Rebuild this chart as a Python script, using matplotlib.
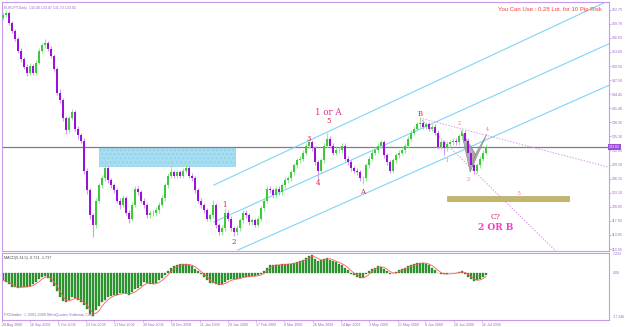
import matplotlib
matplotlib.use("Agg")
import matplotlib.pyplot as plt
import numpy as np
import pandas as pd
from matplotlib.patches import Rectangle, Polygon

# ---------------- data (EURJPY daily) ----------------
first_open = 161.0
closes = [161.7, 162.1, 159.9, 158.2, 156.5, 153.9, 152.1, 150.4, 149.1, 150.6,
          149.1, 151.3, 153.9, 155.0, 155.6, 154.3, 152.8, 150.0, 144.8, 143.1,
          139.2, 136.6, 139.2, 140.5, 137.0, 135.5, 134.4, 127.9, 123.6, 118.2,
          116.0, 121.4, 124.7, 126.2, 128.4, 125.8, 124.7, 123.6, 121.4, 120.4,
          121.9, 118.8, 117.5, 120.4, 124.0, 123.2, 121.4, 120.4, 118.2, 118.8,
          118.6, 119.3, 120.4, 121.9, 124.7, 126.8, 127.5, 126.8, 127.5, 126.8,
          127.9, 128.4, 126.8, 126.2, 123.6, 121.4, 120.4, 119.3, 117.5, 118.2,
          120.4, 116.0, 114.5, 115.4, 118.8, 117.5, 115.4, 114.5, 115.4, 117.1,
          118.8, 118.2, 116.7, 117.1, 116.2, 117.5, 119.7, 121.4, 124.0, 123.6,
          122.5, 124.0, 123.2, 124.7, 125.8, 126.2, 127.5, 129.0, 130.1, 130.5,
          131.8, 133.3, 134.0, 132.7, 129.7, 127.9, 130.1, 133.3, 134.8, 133.3,
          131.8, 132.3, 132.3, 133.3, 130.5, 129.7, 128.4, 127.9, 127.5, 126.2,
          126.2, 129.0, 130.5, 131.8, 132.3, 133.3, 134.0, 131.2, 129.7, 127.9,
          130.1, 131.2, 131.8, 132.3, 133.3, 134.8, 136.1, 137.0, 137.9, 138.3,
          137.4, 137.9, 137.0, 137.4, 136.1, 133.1, 134.0, 132.7, 133.6, 134.0,
          134.4, 134.0, 135.3, 136.1, 134.4, 131.8, 129.0, 127.9, 129.0, 130.5,
          131.8, 133.1]
highs = [162.3, 162.7, 162.4, 160.3, 158.6, 156.9, 154.4, 152.6, 150.9, 151.2,
         151.0, 151.8, 154.4, 155.6, 156.3, 156.0, 154.8, 153.2, 150.4, 145.5,
         143.6, 139.7, 139.8, 141.2, 141.0, 137.5, 136.0, 134.9, 128.4, 124.1,
         118.7, 122.0, 125.3, 126.9, 130.5, 128.9, 126.3, 125.2, 124.1, 121.9,
         122.5, 122.3, 119.3, 121.0, 124.6, 124.6, 123.7, 121.9, 120.9, 119.4,
         119.3, 119.9, 121.0, 122.5, 125.3, 127.4, 130.5, 128.0, 128.1, 128.0,
         128.5, 129.5, 128.9, 127.3, 126.7, 124.1, 121.9, 120.9, 119.8, 118.8,
         121.5, 120.9, 116.5, 116.0, 119.8, 119.3, 118.0, 115.9, 116.0, 117.7,
         119.4, 119.3, 118.7, 117.7, 117.6, 118.1, 120.3, 122.0, 124.6, 124.5,
         124.1, 124.6, 124.5, 125.3, 126.4, 126.8, 128.1, 129.6, 130.7, 131.1,
         132.4, 133.9, 134.9, 134.5, 133.2, 130.2, 130.7, 133.9, 136.1, 135.3,
         133.8, 132.9, 132.9, 133.9, 133.8, 131.0, 130.2, 128.9, 128.4, 128.0,
         126.8, 129.6, 131.1, 132.4, 132.9, 133.9, 134.6, 134.5, 131.7, 130.2,
         130.7, 131.8, 132.4, 132.9, 133.9, 135.4, 136.7, 137.6, 138.5, 139.2,
         138.8, 138.5, 138.4, 138.0, 137.9, 136.6, 134.6, 134.5, 134.2, 134.6,
         135.0, 134.9, 135.9, 136.8, 136.6, 134.9, 132.3, 129.5, 129.6, 131.1,
         132.4, 133.7]
lows = [160.6, 161.2, 159.4, 157.7, 155.9, 153.3, 151.5, 149.8, 148.3, 148.6,
        148.5, 148.6, 150.9, 153.4, 154.5, 153.8, 152.2, 149.4, 144.2, 142.5,
        138.6, 135.9, 136.1, 138.8, 136.4, 134.8, 133.8, 127.2, 122.8, 117.4,
        113.4, 115.4, 120.8, 124.1, 125.7, 125.2, 124.1, 123.0, 120.8, 119.6,
        119.9, 118.2, 116.5, 117.0, 119.9, 122.6, 120.8, 119.8, 117.6, 117.6,
        118.0, 118.1, 118.8, 119.9, 121.4, 124.2, 126.3, 126.2, 126.3, 126.2,
        126.3, 127.4, 126.2, 125.6, 123.0, 120.8, 119.8, 118.7, 116.9, 117.0,
        117.7, 115.4, 113.9, 114.0, 114.9, 116.9, 114.8, 113.7, 114.0, 114.9,
        116.6, 117.6, 116.1, 116.2, 115.6, 115.7, 117.0, 119.2, 120.9, 123.0,
        121.9, 122.0, 122.6, 122.7, 124.2, 125.3, 125.7, 127.0, 128.5, 129.6,
        130.0, 131.3, 132.8, 132.1, 129.1, 126.2, 127.4, 129.6, 132.8, 132.7,
        131.2, 131.3, 131.7, 131.8, 129.9, 129.1, 127.8, 127.3, 126.9, 125.6,
        124.9, 125.7, 128.5, 130.0, 131.3, 131.8, 132.8, 130.6, 129.1, 127.3,
        127.4, 129.6, 130.7, 131.3, 131.8, 132.8, 134.3, 135.6, 136.5, 137.4,
        136.8, 136.9, 136.4, 136.5, 135.5, 132.5, 132.6, 131.2, 132.2, 133.1,
        133.5, 133.4, 133.5, 134.8, 133.8, 131.2, 128.4, 127.2, 127.4, 128.5,
        130.0, 131.3]
macd_main = [-3.0, -3.5, -4.5, -5.5, -5.7, -5.8, -5.5, -5.5, -5.5, -5.0,
             -4.5, -3.5, -2.5, -1.5, -1.2, -2.0, -3.5, -5.0, -7.0, -9.5,
             -11.0, -11.5, -10.5, -9.5, -10.0, -10.5, -11.5, -12.5, -14.0, -16.0,
             -17.0, -14.5, -13.0, -11.5, -10.5, -9.5, -9.0, -8.5, -8.5, -8.0,
             -8.0, -8.0, -8.5, -7.5, -6.5, -6.0, -5.0, -3.5, -4.0, -4.5,
             -4.5, -4.0, -3.0, -2.0, -1.0, 0.5, 1.8, 2.5, 2.8, 3.2,
             3.3, 3.3, 3.0, 2.5, 1.5, 0.5, -0.5, -1.5, -3.0, -4.0,
             -4.0, -4.5, -4.8, -4.5, -3.5, -3.0, -2.5, -2.5, -2.3, -2.0,
             -1.5, -1.5, -1.5, -1.3, -1.2, -1.0, -0.5, 0.5, 2.0, 3.0,
             3.0, 3.0, 3.0, 3.2, 3.3, 3.5, 3.5, 3.8, 4.2, 4.5,
             5.0, 5.8, 6.3, 6.7, 5.5, 4.5, 4.8, 5.5, 5.8, 5.0,
             4.5, 4.0, 3.5, 3.0, 2.0, 1.0, -0.5, -1.0, -1.5, -2.2,
             -2.0, -0.5, 0.5, 1.5, 2.0, 2.5, 2.3, 1.5, 0.5, -0.5,
             -0.3, 0.3, 1.0, 1.5, 2.0, 2.5, 3.0, 3.3, 3.6, 3.8,
             3.8, 3.5, 2.8, 2.0, 1.0, -0.3, -0.5, -0.6, -0.5, -0.3,
             -0.3, 0.0, 0.3, 0.5, -0.5, -1.5, -2.5, -3.2, -3.0, -2.3,
             -1.5, -0.8]
signal_period = 3

price_ticks = [110.90, 113.95, 117.00, 120.05, 123.10, 126.15, 129.20, 132.25,
               135.30, 138.35, 141.40, 144.45, 147.50, 150.55, 153.60, 156.65,
               159.70, 162.75]
date_labels = ["28 Aug 2008", "16 Sep 2008", "5 Oct 2008", "23 Oct 2008",
               "13 Nov 2008", "30 Nov 2008", "18 Dec 2008", "11 Jan 2009",
               "29 Jan 2009", "17 Feb 2009", "8 Mar 2009", "26 Mar 2009",
               "14 Apr 2009", "3 May 2009", "21 May 2009", "9 Jun 2009",
               "28 Jun 2009", "16 Jul 2009"]
date_bars = [-0.3, 9.0, 18.3, 27.7, 37.0, 46.7, 56.0, 65.7, 75.0, 84.3,
             93.7, 103.3, 112.7, 122.0, 131.7, 140.7, 150.3, 159.7]
last_price = 133.02

# annotation objects (bar index, price)
channel_lines = [((70.3, 124.77), (203.0, 165.04)),
                 ((70.3, 116.75), (203.0, 155.66)),
                 ((78.3, 110.68), (203.0, 146.67))]
zone_box = (32.0, 77.3, 128.88, 133.00)
dotted_lines = [((139.0, 139.28), (203.0, 128.45)),
                ((139.0, 139.28), (185.0, 110.0))]
target_bar = (148.0, 188.7, 121.30, 122.38)
pattern_tris = [[(152.7, 136.5), (155.7, 127.6), (157.5, 131.5)],
                [(155.7, 127.6), (157.5, 131.5), (161.3, 135.8)]]
wave_labels = [("1", 73.7, 120.4), ("2", 77.0, 112.4), ("3", 102.0, 134.7),
               ("4", 105.0, 125.2), ("5", 108.4, 138.6), ("A", 119.7, 123.2),
               ("B", 139.0, 140.1)]
minor_labels = [("1", 148.0, 130.0), ("2", 152.0, 138.2), ("3", 155.0, 125.9),
                ("4", 161.3, 136.7), ("5", 172.0, 123.0)]

# ---------------- figure ----------------
W, H = 625, 327
fig = plt.figure(figsize=(W / 100, H / 100), dpi=100)
fig.patch.set_facecolor("white")

def fx(px):
    return px / W

def fy(py):
    return 1 - py / H

frame = "#C79BE8"
txtc = "#9A66CC"

ax = fig.add_axes([fx(2), fy(251), fx(609) - fx(2), fy(2) - fy(251)])
ax2 = fig.add_axes([fx(2), fy(320), fx(609) - fx(2), fy(253) - fy(320)])

n = min(len(closes), len(highs), len(lows), len(macd_main))
c = np.array(closes[:n])
o = np.concatenate([[first_open], c[:-1]])
hi = np.array(highs[:n])
lo = np.array(lows[:n])
x = np.arange(n)
up = c >= o

xl = (-0.33, 202.0)
ylo, yhi = 110.47, 164.42
ax.set_xlim(*xl)
ax.set_ylim(ylo, yhi)

# annotation layers behind candles
ax.add_patch(Rectangle((zone_box[0], zone_box[2]), zone_box[1] - zone_box[0],
                       zone_box[3] - zone_box[2], facecolor="#A8DDF0",
                       edgecolor="#8FD3EE", lw=0.5, hatch="....", zorder=1))
ax.axhline(last_price, color="#7F7F7F", lw=0.9, zorder=1.5)
for (p0, p1) in channel_lines:
    ax.plot([p0[0], p1[0]], [p0[1], p1[1]], color="#7FD4F5", lw=0.8, zorder=2)
for (p0, p1) in dotted_lines:
    ax.plot([p0[0], p1[0]], [p0[1], p1[1]], color="#D59BE6", lw=0.7,
            ls=(0, (1.5, 1.5)), zorder=2)
ax.add_patch(Rectangle((target_bar[0], target_bar[2]), target_bar[1] - target_bar[0],
                       target_bar[3] - target_bar[2], facecolor="#C3B66C",
                       edgecolor="#A89A55", lw=0.4, zorder=2))
for tri in pattern_tris:
    ax.add_patch(Polygon(tri, closed=True, facecolor="#9A9A9A", edgecolor="#808080",
                         lw=0.4, alpha=0.85, zorder=2.5))

# candles
wick_cols = np.where(up, "#9BE89B", "#CFA0EA")
ax.vlines(x, lo, hi, colors=wick_cols, lw=0.8, zorder=3)
body_lo = np.minimum(o, c)
body_h = np.maximum(np.abs(c - o), 0.15)
ax.bar(x[up], body_h[up], bottom=body_lo[up], width=0.7, color="#3DC83D",
       lw=0, zorder=4)
ax.bar(x[~up], body_h[~up], bottom=body_lo[~up], width=0.7, color="#9A12D9",
       lw=0, zorder=4)

# labels
for t, bx, py in wave_labels:
    ax.text(bx, py, t, color="#D8204A", fontsize=5, family="DejaVu Serif",
            ha="center", va="center", zorder=6)
ax.text(108.4, 140.4, "1 or A", color="#E0308F", fontsize=6.2, family="DejaVu Serif",
        ha="center", va="center", zorder=6)
for t, bx, py in minor_labels:
    ax.text(bx, py, t, color="#F0607F", fontsize=3.3, family="DejaVu Serif",
            ha="center", va="center", zorder=6)
ax.text(164.3, 117.8, "C?", color="#D8204A", fontsize=5.5, family="DejaVu Serif",
        ha="center", va="center", zorder=6)
ax.text(164.3, 115.6, "2 OR B", color="#F040C8", fontsize=6.5, family="DejaVu Serif",
        fontweight="bold", ha="center", va="center", zorder=6)

# price axis
ax.yaxis.tick_right()
ax.set_yticks(price_ticks)
ax.set_yticklabels([f"{v:.2f}" for v in price_ticks])
ax.tick_params(axis="y", colors=frame, labelcolor=txtc, labelsize=2.6, length=1.5,
               width=0.6, pad=0.8)
for lab in ax.get_yticklabels():
    lab.set_family("Liberation Sans")
ax.set_xticks([])
for s in ax.spines.values():
    s.set_color(frame)
    s.set_linewidth(0.8)
ax.text(1.0, (last_price - ylo) / (yhi - ylo), f"{last_price:.2f}",
        transform=ax.transAxes, fontsize=2.6, color="white", ha="left", va="center",
        family="Liberation Sans",
        bbox=dict(boxstyle="square,pad=0.3", fc="#9B4FD6", ec="none"), zorder=10,
        clip_on=False)

# top texts
ax.text(0.003, 0.985, "EURJPY,Daily  132.40 133.47 131.72 133.02", transform=ax.transAxes,
        fontsize=2.6, color=txtc, ha="left", va="top", family="Liberation Sans")
fig.text(fx(602), fy(9), "You Can Use : 0.28 Lot. for 10 Pip Risk", color="#FF3B3B",
         fontsize=4.3, ha="right", va="center", family="Liberation Sans")

# ---------------- MACD panel ----------------
macd = np.array(macd_main[:n])
signal = pd.Series(macd).rolling(signal_period, min_periods=1).mean().to_numpy()
ax2.set_xlim(*xl)
mlo, mhi = -18.39, 7.66
ax2.set_ylim(mlo, mhi)
ax2.bar(x, macd, width=0.8, color="#2E9A2E", edgecolor="#1F6F1F", lw=0.2, zorder=2)
ax2.plot(x, signal, color="#FF5A5A", lw=0.6, zorder=3)
ax2.set_yticks([])
ax2.set_xticks(date_bars)
ax2.set_xticklabels(date_labels, ha="left")
ax2.tick_params(axis="x", colors=frame, labelcolor=txtc, labelsize=2.6, length=1.5,
                width=0.6, pad=0.6)
for lab in ax2.get_xticklabels():
    lab.set_family("Liberation Sans")
for s in ax2.spines.values():
    s.set_color(frame)
    s.set_linewidth(0.8)
ax2.text(0.003, 0.95, "MACD(5,34,5) -0.731 -1.737", transform=ax2.transAxes,
         fontsize=2.7, color="#505050", ha="left", va="top", family="Liberation Sans")
ax2.text(0.003, 0.04, "FXDtrader, \u00a9 2001-2009 MetaQuotes Software Corp.",
         transform=ax2.transAxes, fontsize=2.8, color=txtc, ha="left", va="bottom",
         family="Liberation Sans")
for lab, val in [("7.223", 7.223), ("0.00", 0.0), ("-17.246", -17.246)]:
    ax2.text(1.006, (val - mlo) / (mhi - mlo), lab, transform=ax2.transAxes,
             fontsize=2.6, color=txtc, ha="left", va="center", clip_on=False,
             family="Liberation Sans")

fig.savefig("out.png", dpi=100, facecolor="white")
